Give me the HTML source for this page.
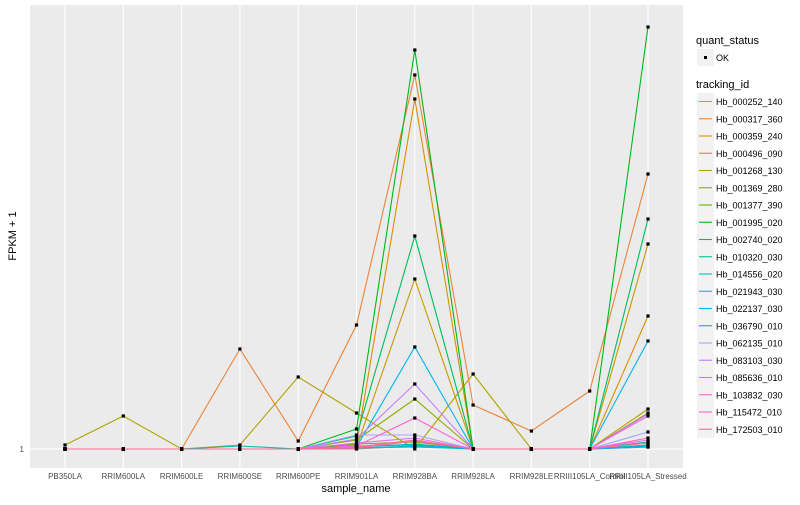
<!DOCTYPE html>
<html><head><meta charset="utf-8"><style>
body{margin:0;background:#fff;width:800px;height:500px;overflow:hidden;font-family:"Liberation Sans",sans-serif}
</style></head><body>
<svg id="chart" width="800" height="500" xmlns="http://www.w3.org/2000/svg" font-family="Liberation Sans, sans-serif">
<rect x="30" y="5" width="653" height="463" fill="#EBEBEB"/>
<g id="grid"></g><g id="lines"></g><g id="pts"></g><g id="axes"></g><g id="legend"></g>
</svg>
<script>
const categories=["PB350LA","RRIM600LA","RRIM600LE","RRIM600SE","RRIM600PE","RRIM901LA","RRIM928BA","RRIM928LA","RRIM928LE","RRIII105LA_Control","RRIII105LA_Stressed"];
const trackingIds=["Hb_000252_140","Hb_000317_360","Hb_000359_240","Hb_000496_090","Hb_001268_130","Hb_001369_280","Hb_001377_390","Hb_001995_020","Hb_002740_020","Hb_010320_030","Hb_014556_020","Hb_021943_030","Hb_022137_030","Hb_036790_010","Hb_062135_010","Hb_083103_030","Hb_085636_010","Hb_103832_030","Hb_115472_010","Hb_172503_010"];
const colors=["#F8766D","#EC8239","#DB8E00","#C79800","#AEA200","#8FAA00","#64B200","#00B81B","#00BD5C","#00C08D","#00C0B7","#00BCD8","#00B5EE","#00A9FF","#A3A5FF","#C77CFF","#E76BF3","#FA62DB","#FF62BC","#FF6C91"];
// values in FPKM+1 (relative units)
const s0=[1,1,1,1,1,1,4,1,1,1,3];
const s1=[1,1,1,101,9,125,375,45,19,59,276];
const s2=[1,1,1,1,1,5,351,1,1,1,134];
const s3=[1,1,1,1,1,3,171,1,1,1,206];
const s4=[5,34,1,5,73,37,1,76,1,1,41];
const s5=[1,1,1,1,1,10,51,1,1,1,37];
const s6=[1,1,1,1,1,6,8,1,1,1,5];
const s7=[1,1,1,1,1,21,400,1,1,1,423];
const s8=[1,1,1,1,1,14,214,1,1,1,231];
const s9=[1,1,1,1,1,3,6,1,1,1,8];
const s10=[1,1,1,4,1,2,3,1,1,1,4];
const s11=[1,1,1,1,1,2,4,1,1,1,5];
const s12=[1,1,1,1,1,3,103,1,1,1,109];
const s13=[1,1,1,1,1,4,5,1,1,1,3];
const s14=[1,1,1,1,1,15,15,1,1,1,18];
const s15=[1,1,1,1,1,11,66,1,1,1,36];
const s16=[1,1,1,1,1,7,12,1,1,1,10];
const s17=[1,1,1,1,1,4,32,1,1,1,34];
const s18=[1,1,1,1,1,2,9,1,1,1,12];
const s19=[1,1,1,1,1,3,10,1,1,1,7];
const series=[s0,s1,s2,s3,s4,s5,s6,s7,s8,s9,s10,s11,s12,s13,s14,s15,s16,s17,s18,s19];
const yTicks=[1];
const NS="http://www.w3.org/2000/svg";
const xS=i=>65+i*58.3;
const yS=v=>449-(v-1)*1.0;
function mk(t,a,p){const e=document.createElementNS(NS,t);for(const k in a)e.setAttribute(k,a[k]);document.getElementById(p).appendChild(e);return e;}
categories.forEach((c,i)=>{
 const g=mk('line',{x1:xS(i),x2:xS(i),y1:5,y2:468,stroke:'#fff','stroke-width':1.1},'grid');
 
 
 const t=mk('text',{x:xS(i),y:479,'font-size':8,fill:'#4D4D4D','text-anchor':'middle'},'axes');t.textContent=c;
 
 
});
yTicks.forEach(v=>{
 const g=mk('line',{x1:30,x2:683,y1:yS(v),y2:yS(v),stroke:'#fff','stroke-width':1.1},'grid');
 
 
 const t=mk('text',{x:24,y:yS(v)+3,'font-size':8,fill:'#4D4D4D','text-anchor':'end'},'axes');t.textContent=v;
 
 
});
series.forEach((s,k)=>{
 const p=mk('polyline',{points:s.map((v,i)=>xS(i)+','+yS(v)).join(' '),fill:'none',stroke:colors[k],'stroke-width':1.1},'lines');
 
 
 s.forEach((v,i)=>{
  const r=mk('rect',{x:xS(i)-1.6,y:yS(v)-1.6,width:3.2,height:3.2,fill:'#000'},'pts');
  
  
 });
});
let t=mk('text',{x:356,y:492,'font-size':11,fill:'#000','text-anchor':'middle'},'axes');t.textContent='sample_name';


t=mk('text',{x:0,y:0,'font-size':11,fill:'#000','text-anchor':'middle',transform:'translate(16,236) rotate(-90)'},'axes');t.textContent='FPKM + 1';


t=mk('text',{x:696,y:44,'font-size':11,fill:'#000'},'legend');t.textContent='quant_status';


let b=mk('rect',{x:697,y:49,width:17,height:17,fill:'#F2F2F2'},'legend');


mk('rect',{x:704,y:56,width:3,height:3,fill:'#000'},'legend');
t=mk('text',{x:716,y:61,'font-size':9,fill:'#000'},'legend');t.textContent='OK';


t=mk('text',{x:696,y:88,'font-size':11,fill:'#000'},'legend');t.textContent='tracking_id';


trackingIds.forEach((id,k)=>{
 const y=93+k*17.25;
 const kb=mk('rect',{x:697,y:y,width:17,height:17,fill:'#F2F2F2'},'legend');
 
 
 mk('line',{x1:699,x2:712,y1:y+8.5,y2:y+8.5,stroke:colors[k],'stroke-width':1.1},'legend');
 const lt=mk('text',{x:716,y:y+12,'font-size':9,fill:'#000'},'legend');lt.textContent=id;
 
 
});
</script>
</body></html>
